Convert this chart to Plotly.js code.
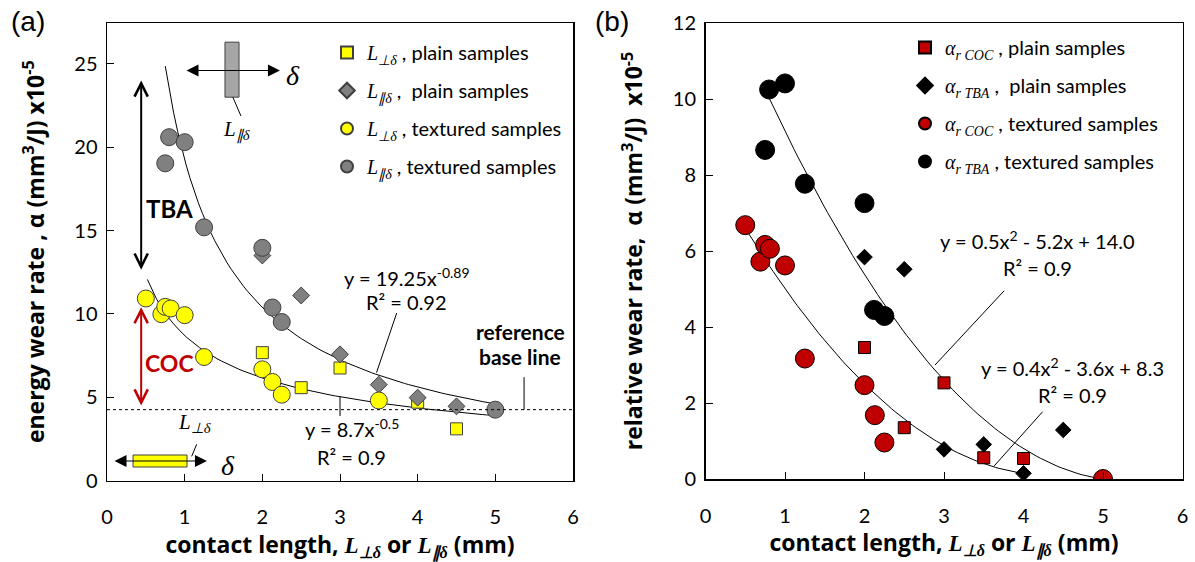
<!DOCTYPE html>
<html><head><meta charset="utf-8">
<script src="https://cdn.plot.ly/plotly-3.0.1.min.js"></script>
<style>html,body{margin:0;padding:0;background:#fff}</style>
</head><body><div id="chart" style="width:1195px;height:562px"></div>
<script>
// ---------- panel (a): energy wear rate ----------
const aSqX  = [2, 2.5, 3, 4, 4.5];                 // L⊥δ plain
const aSqY  = [7.67, 5.57, 6.75, 4.7, 3.1];
const aDiaX = [2, 2.5, 3, 3.5, 4, 4.5];            // L∥δ plain
const aDiaY = [13.5, 11.1, 7.57, 5.75, 4.97, 4.45];
const aYcX  = [0.5, 0.7, 0.75, 0.82, 1.0, 1.25, 2.0, 2.13, 2.25, 3.5];   // L⊥δ textured
const aYcY  = [10.92, 9.98, 10.42, 10.32, 9.92, 7.41, 6.67, 5.91, 5.15, 4.8];
const aGcX  = [0.75, 0.8, 1.0, 1.25, 2.0, 2.13, 2.25, 5.0];             // L∥δ textured
const aGcY  = [19.03, 20.6, 20.3, 15.19, 13.96, 10.38, 9.51, 4.25];
const aFitUpper = [19.25, -0.89];  const aFitUpperRange = [0.75, 5];
const aFitLower = [8.7, -0.5];     const aFitLowerRange = [0.52, 5];
const aBaseLine = 4.25;
const aTicksY = [0, 5, 10, 15, 20, 25];

// ---------- panel (b): relative wear rate ----------
const bSqX  = [2, 2.5, 3, 3.5, 4];                  // αr COC plain
const bSqY  = [3.46, 1.35, 2.53, 0.56, 0.54];
const bDiaX = [2, 2.5, 3, 3.5, 4, 4.5];             // αr TBA plain
const bDiaY = [5.84, 5.52, 0.78, 0.91, 0.15, 1.29];
const bRcX  = [0.5, 0.69, 0.75, 0.81, 1.0, 1.25, 2.0, 2.13, 2.25, 5.0]; // αr COC textured
const bRcY  = [6.68, 5.72, 6.16, 6.06, 5.62, 3.17, 2.47, 1.68, 0.96, 0];
const bBcX  = [0.75, 0.8, 1.0, 1.25, 2.0, 2.12, 2.25];                  // αr TBA textured
const bBcY  = [8.66, 10.25, 10.41, 7.77, 7.26, 4.45, 4.29];
const bFitTBA = [0.495, -5.26, 13.92]; const bFitTBARange = [0.8, 5];
const bFitCOC = [0.445, -3.845, 8.41]; const bFitCOCRange = [0.5, 4];
const bTicksY = [0, 2, 4, 6, 8, 10, 12];
const xTicks = [0, 1, 2, 3, 4, 5, 6];

const W = 1195, H = 562;
const FONT = "Lato, 'Open Sans', sans-serif";
const TFONT = "'Open Sans', Lato, sans-serif";
const SER = "font-family:'Liberation Serif',serif;font-style:italic";
const Lperp = `<span style="${SER}">L<sub>⊥δ</sub></span>`;
const Lpar  = `<span style="${SER}">L<sub>∥δ</sub></span>`;
const aCOC = `<span style="${SER}">α<sub>r COC</sub></span>`;
const aTBA = `<span style="${SER}">α<sub>r TBA</sub></span>`;

function powerCurve(c, r){ const xs=[], ys=[]; const n=80;
  for(let i=0;i<=n;i++){ const x=r[0]+(r[1]-r[0])*i/n; xs.push(x); ys.push(c[0]*Math.pow(x,c[1])); } return {xs,ys}; }
function quadCurve(c, r){ const xs=[], ys=[]; const n=80;
  for(let i=0;i<=n;i++){ const x=r[0]+(r[1]-r[0])*i/n; xs.push(x); ys.push(c[0]*x*x+c[1]*x+c[2]); } return {xs,ys}; }

const fu = powerCurve(aFitUpper, aFitUpperRange);
const fl = powerCurve(aFitLower, aFitLowerRange);
const ft = quadCurve(bFitTBA, bFitTBARange);
const fc = quadCurve(bFitCOC, bFitCOCRange);

const line1 = {color:'#000', width:1};
const traces = [
  {x:fu.xs, y:fu.ys, mode:'lines', line:line1, showlegend:false, hoverinfo:'skip', xaxis:'x', yaxis:'y'},
  {x:fl.xs, y:fl.ys, mode:'lines', line:line1, showlegend:false, hoverinfo:'skip', xaxis:'x', yaxis:'y'},
  {x:aSqX, y:aSqY, mode:'markers', name:`${Lperp} , plain samples`, legendgroup:'a1',
   marker:{symbol:'square', size:12, color:'#FFFF00', line:{color:'#404040', width:1}}, xaxis:'x', yaxis:'y'},
  {x:aDiaX, y:aDiaY, mode:'markers', name:`${Lpar} ,  plain samples`, legendgroup:'a2',
   marker:{symbol:'diamond', size:13, color:'#808080', line:{color:'#404040', width:1}}, xaxis:'x', yaxis:'y'},
  {x:aYcX, y:aYcY, mode:'markers', name:`${Lperp} , textured samples`, legendgroup:'a3',
   marker:{symbol:'circle', size:17, color:'#FFFF00', line:{color:'#404040', width:1}}, xaxis:'x', yaxis:'y'},
  {x:aGcX, y:aGcY, mode:'markers', name:`${Lpar} , textured samples`, legendgroup:'a4',
   marker:{symbol:'circle', size:17, color:'#808080', line:{color:'#404040', width:1}}, xaxis:'x', yaxis:'y'},

  {x:ft.xs, y:ft.ys, mode:'lines', line:line1, showlegend:false, hoverinfo:'skip', xaxis:'x2', yaxis:'y2'},
  {x:fc.xs, y:fc.ys, mode:'lines', line:line1, showlegend:false, hoverinfo:'skip', xaxis:'x2', yaxis:'y2'},
  {x:bSqX, y:bSqY, mode:'markers', name:`${aCOC} , plain samples`, legend:'legend2', legendgroup:'b1',
   marker:{symbol:'square', size:12, color:'#C00000', line:{color:'#000', width:1}}, xaxis:'x2', yaxis:'y2'},
  {x:bDiaX, y:bDiaY, mode:'markers', name:`${aTBA} ,  plain samples`, legend:'legend2', legendgroup:'b2',
   marker:{symbol:'diamond', size:12, color:'#000', line:{color:'#000', width:1}}, xaxis:'x2', yaxis:'y2'},
  {x:bRcX, y:bRcY, mode:'markers', name:`${aCOC} , textured samples`, legend:'legend2', legendgroup:'b3',
   marker:{symbol:'circle', size:19, color:'#C00000', line:{color:'#000', width:1}}, xaxis:'x2', yaxis:'y2'},
  {x:bBcX, y:bBcY, mode:'markers', name:`${aTBA} , textured samples`, legend:'legend2', legendgroup:'b4',
   marker:{symbol:'circle', size:19, color:'#000', line:{color:'#000', width:1}}, xaxis:'x2', yaxis:'y2'}
];

const axBase = {ticks:'inside', ticklen:7, tickcolor:'#000', tickwidth:1, linecolor:'#000', linewidth:1.5,
  mirror:true, showgrid:false, zeroline:false, tickfont:{size:20, family:FONT, color:'#000'}, fixedrange:true};

const SERB = SER + ";font-weight:bold";
const xTitle = `<b>contact length, </b><span style="${SERB}">L<sub>⊥δ</sub></span><b> or </b><span style="${SERB}">L<sub>∥δ</sub></span><b> (mm)</b>`;

const layout = {
  width:W, height:H, margin:{l:0, r:0, t:0, b:0}, paper_bgcolor:'#fff', plot_bgcolor:'#fff',
  font:{family:FONT, size:20, color:'#000'},
  xaxis: Object.assign({}, axBase, {domain:[107/W, 573/W], range:[0,6], tickvals:xTicks, anchor:'y',
    ticklabelstandoff:18, title:{text:xTitle, font:{size:23, family:TFONT}, standoff:8}}),
  yaxis: Object.assign({}, axBase, {domain:[1-480.5/H, 1-23/H], range:[0,27.45], tickvals:aTicksY, anchor:'x',
    ticklabelstandoff:4, title:{text:'<b>energy wear rate , α (mm<sup>3</sup>/J) x10<sup>-5</sup></b>', font:{size:23, family:TFONT}, standoff:23}}),
  xaxis2: Object.assign({}, axBase, {domain:[705.5/W, 1182.5/W], range:[0,6], tickvals:xTicks, anchor:'y2',
    ticklabelstandoff:18, title:{text:xTitle, font:{size:23, family:TFONT}, standoff:8}}),
  yaxis2: Object.assign({}, axBase, {domain:[1-479/H, 1-23/H], range:[0,12], tickvals:bTicksY, anchor:'x2',
    ticklabelstandoff:4, title:{text:'<b>relative wear rate,  α (mm<sup>3</sup>/J)  x10<sup>-5</sup></b>', font:{size:23, family:TFONT}, standoff:23}}),
  legend: {x:327/W, y:1-33/H, xanchor:'left', yanchor:'top', bgcolor:'rgba(0,0,0,0)', font:{size:20},
    itemsizing:'constant', traceorder:'grouped', tracegroupgap:9},
  legend2: {x:905/W, y:1-28/H, xanchor:'left', yanchor:'top', bgcolor:'rgba(0,0,0,0)', font:{size:20},
    itemsizing:'constant', traceorder:'grouped', tracegroupgap:9},
  shapes: [
    {type:'line', xref:'x', yref:'y', x0:0, x1:6, y0:aBaseLine, y1:aBaseLine, line:{color:'#000', width:1, dash:'dot'}},
    {type:'line', xref:'x', yref:'y', x0:5.37, x1:5.37, y0:6.2, y1:aBaseLine, line:{color:'#000', width:1}},
    {type:'line', xref:'x', yref:'y', x0:3.73, x1:3.47, y0:10.05, y1:6.47, line:{color:'#000', width:1}},
    {type:'line', xref:'x', yref:'y', x0:3.0, x1:3.0, y0:5.03, y1:3.87, line:{color:'#000', width:1}},
    {type:'rect', xref:'x', yref:'y', x0:1.519, x1:1.70, y0:23.0, y1:26.3, fillcolor:'#A6A6A6', line:{color:'#404040', width:1}},
    {type:'line', xref:'x', yref:'y', x0:1.62, x1:1.725, y0:23.0, y1:21.87, line:{color:'#000', width:1}},
    {type:'rect', xref:'x', yref:'y', x0:0.335, x1:1.03, y0:0.81, y1:1.53, fillcolor:'#FFFF00', line:{color:'#404040', width:1}},
    {type:'line', xref:'x', yref:'y', x0:1.155, x1:1.09, y0:2.17, y1:1.45, line:{color:'#000', width:1}},
    {type:'line', xref:'x2', yref:'y2', x0:3.755, x1:2.887, y0:4.95, y1:3.0, line:{color:'#000', width:1}},
    {type:'line', xref:'x2', yref:'y2', x0:4.24, x1:3.63, y0:1.77, y1:0.34, line:{color:'#000', width:1}}
  ],
  annotations: [
    {xref:'paper', yref:'paper', x:28/W, y:1-21/H, xanchor:'center', yanchor:'middle', text:'(a)', showarrow:false, font:{size:28, family:'Liberation Sans, Arial'}},
    {xref:'paper', yref:'paper', x:612/W, y:1-21/H, xanchor:'center', yanchor:'middle', text:'(b)', showarrow:false, font:{size:28, family:'Liberation Sans, Arial'}},
    // arrows (a)
    {xref:'x', yref:'y', axref:'x', ayref:'y', x:0.44, y:24.0, ax:0.44, ay:12.56, text:'', showarrow:true,
     arrowside:'end+start', arrowhead:5, startarrowhead:5, arrowsize:1.3, startarrowsize:1.3, arrowwidth:2, arrowcolor:'#000'},
    {xref:'x', yref:'y', axref:'x', ayref:'y', x:0.44, y:10.4, ax:0.44, ay:4.41, text:'', showarrow:true,
     arrowside:'end+start', arrowhead:5, startarrowhead:5, arrowsize:1.3, startarrowsize:1.3, arrowwidth:2, arrowcolor:'#C00000'},
    {xref:'x', yref:'y', axref:'x', ayref:'y', x:2.227, y:24.6, ax:1.004, ay:24.6, text:'', showarrow:true,
     arrowside:'end+start', arrowhead:2, startarrowhead:2, arrowsize:2.4, startarrowsize:2.4, arrowwidth:1, arrowcolor:'#000'},
    {xref:'x', yref:'y', axref:'x', ayref:'y', x:1.287, y:1.17, ax:0.077, ay:1.17, text:'', showarrow:true,
     arrowside:'end+start', arrowhead:2, startarrowhead:2, arrowsize:2.4, startarrowsize:2.4, arrowwidth:1, arrowcolor:'#000'},
    {xref:'x', yref:'y', x:2.39, y:24.3, text:`<span style="${SER}">δ</span>`, showarrow:false, font:{size:28}},
    {xref:'x', yref:'y', x:1.56, y:0.93, text:`<span style="${SER}">δ</span>`, showarrow:false, font:{size:28}},
    {xref:'x', yref:'y', x:1.674, y:21.0, text:Lpar, showarrow:false, font:{size:21}},
    {xref:'x', yref:'y', x:1.133, y:3.45, text:Lperp, showarrow:false, font:{size:21}},
    {xref:'x', yref:'y', x:0.80, y:16.35, text:'<b>TBA</b>', showarrow:false, font:{size:24}},
    {xref:'x', yref:'y', x:0.81, y:7.05, text:'<b>COC</b>', showarrow:false, font:{size:23, color:'#C00000'}},
    {xref:'x', yref:'y', x:3.86, y:12.2, text:'y = 19.25x<sup>-0.89</sup>', showarrow:false, font:{size:20}},
    {xref:'x', yref:'y', x:3.85, y:10.7, text:'R² = 0.92', showarrow:false, font:{size:20}},
    {xref:'x', yref:'y', x:3.15, y:3.13, text:'y = 8.7x<sup>-0.5</sup>', showarrow:false, font:{size:20}},
    {xref:'x', yref:'y', x:3.15, y:1.43, text:'R² = 0.9', showarrow:false, font:{size:20}},
    {xref:'x', yref:'y', x:5.32, y:8.93, text:'<b>reference</b>', showarrow:false, font:{size:21}},
    {xref:'x', yref:'y', x:5.32, y:7.43, text:'<b>base line</b>', showarrow:false, font:{size:21}},
    // (b)
    {xref:'x2', yref:'y2', x:4.18, y:6.29, text:'y = 0.5x<sup>2</sup> - 5.2x + 14.0', showarrow:false, font:{size:20}},
    {xref:'x2', yref:'y2', x:4.18, y:5.55, text:'R² = 0.9', showarrow:false, font:{size:20}},
    {xref:'x2', yref:'y2', x:4.62, y:2.95, text:'y = 0.4x<sup>2</sup> - 3.6x + 8.3', showarrow:false, font:{size:20}},
    {xref:'x2', yref:'y2', x:4.62, y:2.21, text:'R² = 0.9', showarrow:false, font:{size:20}}
  ]
};

Plotly.newPlot('chart', traces, layout, {displayModeBar:false, staticPlot:true});
</script></body></html>
